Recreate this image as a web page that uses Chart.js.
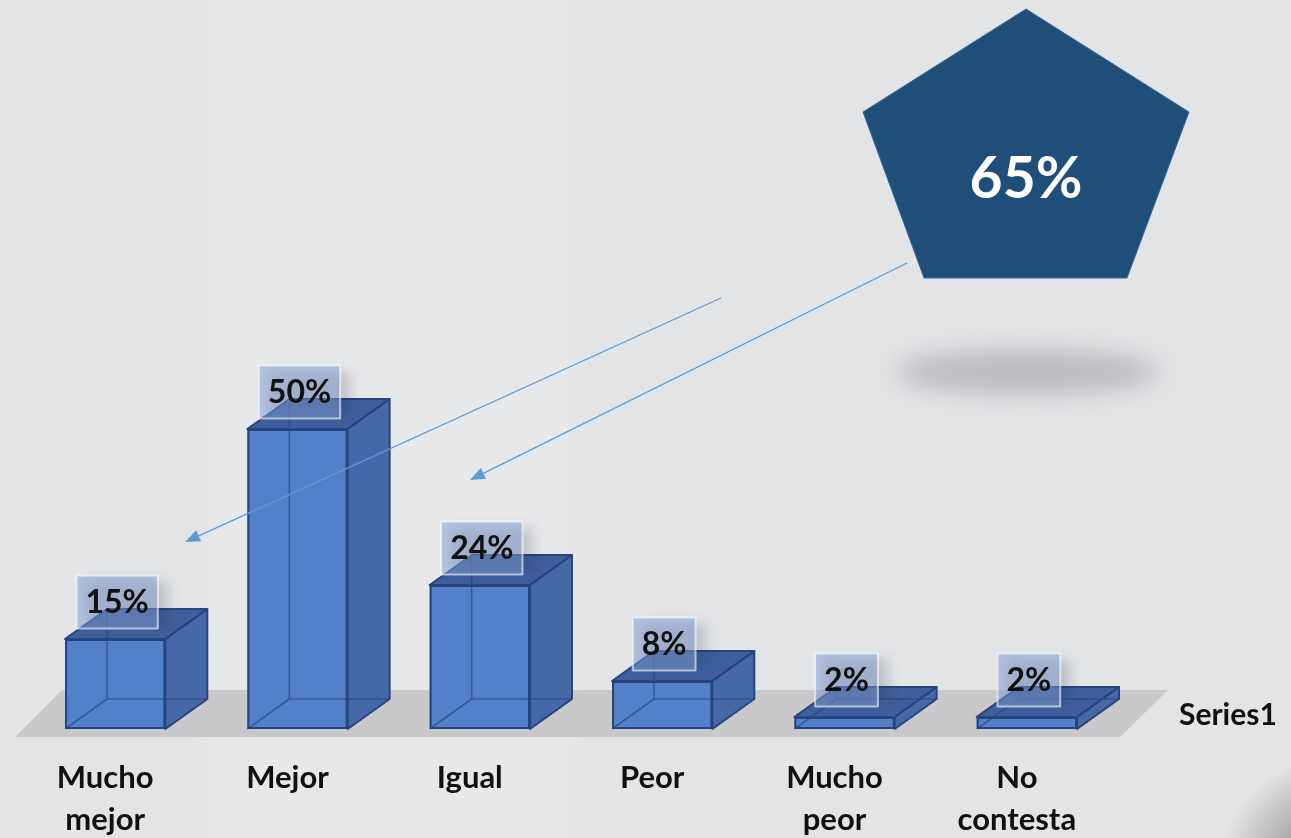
<!DOCTYPE html>
<html>
<head>
<meta charset="utf-8">
<script src="https://cdn.jsdelivr.net/npm/chart.js@4.4.1/dist/chart.umd.min.js"></script>
<style>
  html, body { margin: 0; padding: 0; background: #e3e5e7; }
  #wrap { width: 1291px; height: 838px; position: relative; }
</style>
</head>
<body>
<div id="wrap"><canvas id="chart"></canvas></div>
<script>
// survey answers, share of respondents (%)
const categories = [['Mucho', 'mejor'], 'Mejor', 'Igual', 'Peor', ['Mucho', 'peor'], ['No', 'contesta']];
const values = [15, 50, 24, 8, 2, 2];
const seriesName = 'Series1';
// "mucho mejor" + "mejor"
const highlightPct = 65;

const DEPTH_X = 42;
const DEPTH_Y = -30;
const FONT_FAMILY = 'Lato, "Open Sans", sans-serif';

const poly = (ctx, pts) => {
  ctx.beginPath();
  pts.forEach(([x, y], i) => (i ? ctx.lineTo(x, y) : ctx.moveTo(x, y)));
  ctx.closePath();
};

const arrow = (ctx, x1, y1, x2, y2) => {
  const ang = Math.atan2(y2 - y1, x2 - x1);
  const len = 15;
  const half = 6;
  const bx = x2 - len * Math.cos(ang);
  const by = y2 - len * Math.sin(ang);
  ctx.strokeStyle = '#5b9bd5';
  ctx.fillStyle = '#5b9bd5';
  ctx.lineWidth = 1.3;
  ctx.beginPath();
  ctx.moveTo(x1, y1);
  ctx.lineTo(bx, by);
  ctx.stroke();
  poly(ctx, [
    [x2, y2],
    [bx + half * Math.sin(ang), by - half * Math.cos(ang)],
    [bx - half * Math.sin(ang), by + half * Math.cos(ang)],
  ]);
  ctx.fill();
};

const bar3d = {
  id: 'bar3d',
  beforeDraw(chart) {
    const { ctx, width, height } = chart;
    ctx.save();
    ctx.fillStyle = '#e2e4e6';
    ctx.fillRect(0, 0, width, height);
    // soft lighter band behind the first bars
    const band = ctx.createLinearGradient(195, 0, 585, 0);
    band.addColorStop(0, 'rgba(255,255,255,0)');
    band.addColorStop(0.05, 'rgba(255,255,255,0.16)');
    band.addColorStop(0.95, 'rgba(255,255,255,0.16)');
    band.addColorStop(1, 'rgba(255,255,255,0)');
    ctx.fillStyle = band;
    ctx.fillRect(195, 0, 390, height);
    // page curl shade in the corner
    const corner = ctx.createRadialGradient(width + 40, height + 30, 20, width + 40, height + 30, 110);
    corner.addColorStop(0, 'rgba(70,70,72,0.55)');
    corner.addColorStop(1, 'rgba(70,70,72,0)');
    ctx.fillStyle = corner;
    ctx.fillRect(width - 110, height - 110, 110, 110);
    ctx.restore();
  },
  beforeDatasetsDraw(chart) {
    const { ctx, chartArea: a } = chart;
    const base = chart.scales.y.getPixelForValue(0);
    ctx.save();
    // floor
    ctx.fillStyle = '#c9c9cb';
    poly(ctx, [
      [a.left + 38, base - 39],
      [a.right + 50, base - 39],
      [a.right + 2, base + 8],
      [a.left - 9, base + 8],
    ]);
    ctx.fill();
    // shadow under the pentagon
    ctx.filter = 'blur(12px)';
    ctx.fillStyle = 'rgba(170,170,172,0.7)';
    ctx.beginPath();
    ctx.ellipse(1027, 372, 132, 22, 0, 0, Math.PI * 2);
    ctx.fill();
    ctx.restore();
  },
  afterDatasetsDraw(chart) {
    const { ctx } = chart;
    const meta = chart.getDatasetMeta(0);
    ctx.save();
    ctx.lineJoin = 'round';

    meta.data.forEach((bar) => {
      const { x, y, base, width } = bar.getProps(['x', 'y', 'base', 'width'], true);
      const l = x - width / 2;
      const r = x + width / 2;
      const side = [[r, y], [r + DEPTH_X, y + DEPTH_Y], [r + DEPTH_X, base + DEPTH_Y], [r, base]];
      const top = [[l, y], [l + DEPTH_X, y + DEPTH_Y], [r + DEPTH_X, y + DEPTH_Y], [r, y]];

      ctx.fillStyle = '#4768a6';
      poly(ctx, side);
      ctx.fill();
      ctx.fillStyle = '#3e5e9c';
      poly(ctx, top);
      ctx.fill();

      // back edges seen through the glassy front
      ctx.strokeStyle = 'rgba(38,66,120,0.6)';
      ctx.lineWidth = 1.6;
      ctx.beginPath();
      ctx.moveTo(l + DEPTH_X, y + DEPTH_Y);
      ctx.lineTo(l + DEPTH_X, base + DEPTH_Y);
      ctx.lineTo(r + DEPTH_X, base + DEPTH_Y);
      ctx.moveTo(l, base);
      ctx.lineTo(l + DEPTH_X, base + DEPTH_Y);
      ctx.stroke();

      ctx.strokeStyle = '#26457c';
      ctx.lineWidth = 2;
      poly(ctx, side);
      ctx.stroke();
      poly(ctx, top);
      ctx.stroke();
      ctx.strokeRect(l + 1, y + 1, width - 2, base - y - 2);
    });

    // value labels
    ctx.font = 'bold 32px ' + FONT_FAMILY;
    ctx.textAlign = 'center';
    ctx.textBaseline = 'middle';
    meta.data.forEach((bar, i) => {
      const { x, y } = bar.getProps(['x', 'y'], true);
      const text = values[i] + '%';
      const w = ctx.measureText(text).width + 18;
      const h = 53;
      const cx = x + 2;
      const cy = y - 37;
      // faint drop shade behind the box
      ctx.save();
      ctx.filter = 'blur(6px)';
      ctx.fillStyle = 'rgba(30,40,60,0.18)';
      ctx.fillRect(cx - w / 2 + 10, cy - h / 2 + 6, w, h - 10);
      ctx.restore();
      ctx.fillStyle = 'rgba(128,156,210,0.5)';
      ctx.fillRect(cx - w / 2, cy - h / 2, w, h);
      ctx.strokeStyle = 'rgba(255,255,255,0.6)';
      ctx.lineWidth = 2;
      ctx.strokeRect(cx - w / 2, cy - h / 2, w, h);
      ctx.fillStyle = '#111111';
      ctx.fillText(text, cx, cy + 1);
    });

    // depth axis name
    const base = chart.scales.y.getPixelForValue(0);
    ctx.font = 'bold 30px ' + FONT_FAMILY;
    ctx.textAlign = 'left';
    ctx.fillStyle = '#111111';
    ctx.fillText(seriesName, 1179, base - 14);

    // callout pentagon
    ctx.fillStyle = '#1f4e79';
    poly(ctx, [[1026, 9], [1189, 112], [1127, 278], [924, 278], [863, 112]]);
    ctx.fill();
    ctx.strokeStyle = '#3b6aa0';
    ctx.lineWidth = 1;
    ctx.stroke();
    ctx.font = 'bold 57px ' + FONT_FAMILY;
    ctx.textAlign = 'center';
    ctx.fillStyle = '#ffffff';
    ctx.fillText(highlightPct + '%', 1026, 180);

    arrow(ctx, 721, 298, 185, 542);
    arrow(ctx, 907, 263, 470, 480);
    ctx.restore();
  },
};

new Chart(document.getElementById('chart'), {
  type: 'bar',
  data: {
    labels: categories,
    datasets: [{
      label: seriesName,
      data: values,
      backgroundColor: '#5381c9',
      borderWidth: 0,
      categoryPercentage: 1,
      barPercentage: 0.55,
    }],
  },
  options: {
    responsive: true,
    maintainAspectRatio: false,
    animation: false,
    layout: { padding: { left: 24, right: 173, top: 129, bottom: 0 } },
    plugins: { legend: { display: false }, tooltip: { enabled: false } },
    scales: {
      x: {
        grid: { display: false, drawTicks: false },
        border: { display: false },
        afterFit: (scale) => { scale.height = 109; },
        ticks: {
          color: '#111111',
          padding: 28,
          labelOffset: -10,
          maxRotation: 0,
          font: { family: FONT_FAMILY, size: 31, weight: 'bold', lineHeight: 1.35 },
        },
      },
      y: { display: false, min: 0, max: 100 },
    },
  },
  plugins: [bar3d],
});
</script>
</body>
</html>
